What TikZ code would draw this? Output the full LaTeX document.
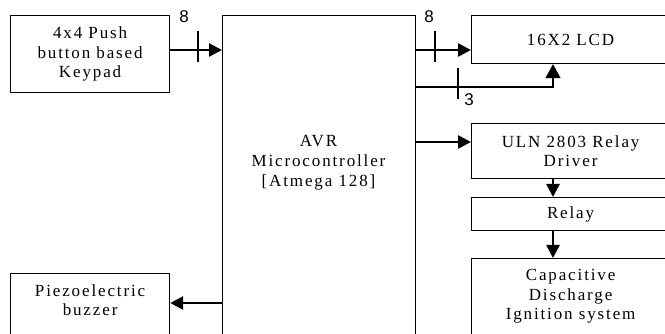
\documentclass[tikz,border=0pt]{standalone}
\usepackage{fontspec}
\setmainfont{Liberation Serif}[LetterSpace=11]
\newfontfamily\labfont{Liberation Sans}
\usetikzlibrary{arrows.meta}
\begin{document}
\begin{tikzpicture}[x=1pt,y=-1pt,
  box/.style={draw, line width=1.2pt, inner sep=0pt, align=center, anchor=north west,
    font=\fontsize{17}{19.5}\selectfont},
  txt/.style={inner sep=0pt, align=center, font=\fontsize{17}{20}\selectfont},
  lab/.style={inner sep=0pt, font=\labfont\fontsize{17}{20}\selectfont},
  bigarrow/.style={line width=2.6pt, -{Triangle[length=13pt,width=13pt]}},
  thinarrow/.style={line width=1.3pt, -{Triangle[length=14pt,width=15pt]}},
  tick/.style={line width=1.2pt}]
\useasboundingbox (0,0) rectangle (665,334);
\clip (0,0) rectangle (665,334);
\fill[white] (0,0) rectangle (665,334);
% boxes
\node[box, minimum width=159pt, minimum height=77pt] (keypad) at (10,15) {4x4 Push\\button based\\Keypad};
\node[box, minimum width=193pt, minimum height=340pt] (mcu) at (222,15) {};
\node[txt] (mcutext) at (318.5,163) {AVR\\Microcontroller\\{}[Atmega 128]};
\node[box, minimum width=198pt, minimum height=48pt] (lcd) at (471,15) {16X2 LCD};
\node[box, minimum width=198pt, minimum height=55pt] (uln) at (471,123) {ULN 2803 Relay\\Driver};
\node[box, minimum width=198pt, minimum height=33pt] (relay) at (471,197) {Relay};
\node[box, minimum width=198pt, minimum height=76pt] (cdi) at (471,258) {Capacitive\\Discharge\\Ignition system};
\node[box, minimum width=159pt, minimum height=78pt] (piezo) at (10,273) {Piezoelectric\\buzzer\\\strut};
% connectors
\draw[bigarrow] (keypad.east |- 0,50) -- (mcu.west |- 0,50);
\draw[tick] (198,31) -- (198,62);
\node[lab] (l8a) at (184,17) {8};
\draw[bigarrow] (mcu.east |- 0,50) -- (lcd.west |- 0,50);
\draw[tick] (435,31) -- (435,62);
\node[lab] (l8b) at (429,17) {8};
\draw[thinarrow] (mcu.east |- 0,87) -| (lcd.south -| 553,0);
\draw[tick] (458,68) -- (458,99);
\node[lab] (l3) at (469,100) {3};
\draw[bigarrow] (mcu.east |- 0,142) -- (uln.west |- 0,142);
\draw[bigarrow] (uln.south -| 553,0) -- (relay.north -| 553,0);
\draw[bigarrow] (relay.south -| 553,0) -- (cdi.north -| 553,0);
\draw[bigarrow] (mcu.west |- 0,303) -- (piezo.east |- 0,303);
\end{tikzpicture}
\end{document}
